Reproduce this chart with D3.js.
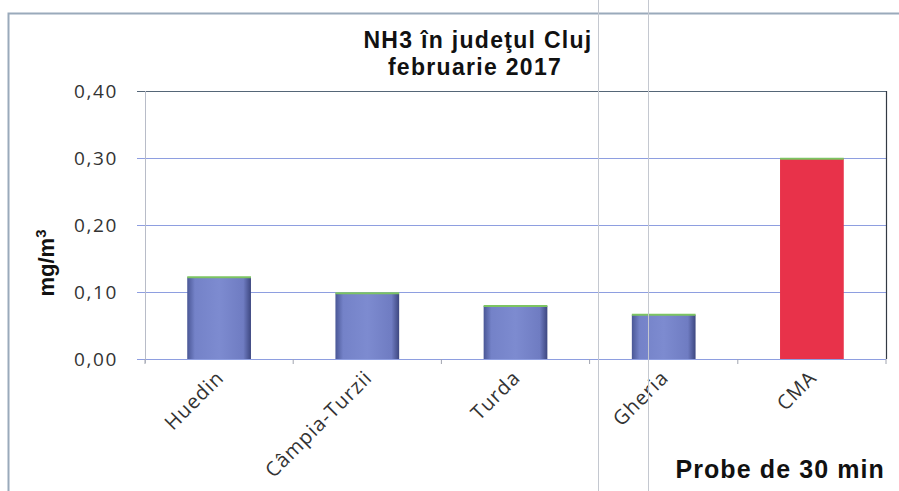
<!DOCTYPE html>
<html>
<head>
<meta charset="utf-8">
<script src="https://cdn.jsdelivr.net/npm/d3@7"></script>
<style>
  body { margin: 0; background: #fff; }
  svg { display: block; }
</style>
</head>
<body>
<script>
const categories = ["Huedin", "Câmpia-Turzii", "Turda", "Gheria", "CMA"];
const values = [0.122, 0.098, 0.079, 0.066, 0.299];
const barColors = ["#6f7cc4", "#6f7cc4", "#6f7cc4", "#6f7cc4", "#e8324a"];
const yTicks = [0, 0.1, 0.2, 0.3, 0.4];
const titleLines = ["NH3 în judeţul Cluj", "februarie 2017"];

const width = 899;
const height = 491;
const margin = { top: 91, right: 13, bottom: 132, left: 145 };

const svg = d3
  .select("body")
  .append("svg")
  .attr("width", width)
  .attr("height", height);

// gradient for the blue bars
const defs = svg.append("defs");
const grad = defs
  .append("linearGradient")
  .attr("id", "blueBar")
  .attr("x1", "0").attr("x2", "1").attr("y1", "0").attr("y2", "0");
grad.append("stop").attr("offset", "0%").attr("stop-color", "#4a5796");
grad.append("stop").attr("offset", "12%").attr("stop-color", "#7482c8");
grad.append("stop").attr("offset", "50%").attr("stop-color", "#7d8bd0");
grad.append("stop").attr("offset", "88%").attr("stop-color", "#6f7cc2");
grad.append("stop").attr("offset", "100%").attr("stop-color", "#3d4780");

// outer chart frame
svg
  .append("path")
  .attr("d", `M8.5,${height} V13.5 H${width}`)
  .attr("fill", "none")
  .attr("stroke", "#9aaabb")
  .attr("stroke-width", 2);

const x = d3
  .scaleBand()
  .domain(categories)
  .range([margin.left, width - margin.right])
  .paddingInner(0.57)
  .paddingOuter(0.285);

const y = d3
  .scaleLinear()
  .domain([0, 0.4])
  .range([height - margin.bottom, margin.top]);

// gridlines
svg
  .append("g")
  .selectAll("line")
  .data(yTicks)
  .enter()
  .append("line")
  .attr("x1", margin.left - 8)
  .attr("x2", width - margin.right)
  .attr("y1", (d) => Math.round(y(d)) + 0.5)
  .attr("y2", (d) => Math.round(y(d)) + 0.5)
  .attr("stroke", (d) => (d === 0.4 ? "#556677" : "#8e9ee0"))
  .attr("stroke-width", 1.2);

// plot area left and right edges
svg
  .append("line")
  .attr("x1", margin.left + 0.5)
  .attr("x2", margin.left + 0.5)
  .attr("y1", y(0.4))
  .attr("y2", y(0) + 4)
  .attr("stroke", "#b8bcc8");
svg
  .append("line")
  .attr("x1", width - margin.right + 0.5)
  .attr("x2", width - margin.right + 0.5)
  .attr("y1", y(0.4))
  .attr("y2", y(0))
  .attr("stroke", "#333a44")
  .attr("stroke-width", 1.2);

// y axis labels
const yAxis = d3
  .axisLeft(y)
  .tickValues(yTicks)
  .tickSize(0)
  .tickPadding(27)
  .tickFormat((d) => d3.format(".2f")(d).replace(".", ","));
const yg = svg
  .append("g")
  .attr("transform", `translate(${margin.left}, 0)`)
  .call(yAxis);
yg.select(".domain").remove();
yg.selectAll("text")
  .attr("font-family", "'Open Sans', Lato, sans-serif")
  .attr("font-size", 19)
  .attr("letter-spacing", 1.6)
  .attr("fill", "#333");

// x axis with category boundary ticks
const xg = svg
  .append("g")
  .attr("transform", `translate(0, ${y(0)})`);
xg.selectAll("line")
  .data(d3.range(categories.length + 1))
  .enter()
  .append("line")
  .attr("x1", (i) => margin.left + i * x.step())
  .attr("x2", (i) => margin.left + i * x.step())
  .attr("y1", 0)
  .attr("y2", 5)
  .attr("stroke", "#a0a4b0");

const xAxis = d3.axisBottom(x).tickSize(0).tickPadding(0);
const xa = svg
  .append("g")
  .attr("transform", `translate(0, ${y(0)})`)
  .call(xAxis);
xa.select(".domain").remove();
xa.selectAll("text")
  .attr("font-family", "'Open Sans', Lato, sans-serif")
  .attr("font-size", 20)
  .attr("letter-spacing", 1)
  .attr("fill", "#333")
  .attr("text-anchor", "end")
  .attr("dy", 0)
  .attr("transform", "translate(6, 20) rotate(-45)");

// bars
const bars = svg.append("g");
bars
  .selectAll("rect")
  .data(values)
  .enter()
  .append("rect")
  .attr("x", (d, i) => x(categories[i]))
  .attr("y", (d) => y(d))
  .attr("width", x.bandwidth())
  .attr("height", (d) => y(0) - y(d))
  .attr("fill", (d, i) => (i === 4 ? barColors[i] : "url(#blueBar)"));
bars
  .selectAll("line")
  .data(values)
  .enter()
  .append("line")
  .attr("x1", (d, i) => x(categories[i]))
  .attr("x2", (d, i) => x(categories[i]) + x.bandwidth())
  .attr("y1", (d) => y(d))
  .attr("y2", (d) => y(d))
  .attr("stroke", "#7cc462")
  .attr("stroke-width", 2);

// scan fold lines
svg
  .append("g")
  .selectAll("line")
  .data([598, 648])
  .enter()
  .append("line")
  .attr("x1", (d) => d + 0.5)
  .attr("x2", (d) => d + 0.5)
  .attr("y1", 0)
  .attr("y2", height)
  .attr("stroke", "#c4c8d0")
  .attr("stroke-width", 1);

// title
svg
  .append("text")
  .attr("x", 478)
  .attr("y", 48)
  .attr("text-anchor", "middle")
  .attr("font-family", "'Liberation Sans', Arial, sans-serif")
  .attr("font-weight", "bold")
  .attr("font-size", 23)
  .attr("letter-spacing", 1.3)
  .attr("fill", "#111")
  .selectAll("tspan")
  .data(titleLines)
  .enter()
  .append("tspan")
  .attr("x", (d, i) => (i === 0 ? 478 : 475))
  .attr("dy", (d, i) => (i === 0 ? 0 : 27))
  .text((d) => d);

// y axis title
svg
  .append("text")
  .attr("transform", "translate(54, 263) rotate(-90)")
  .attr("text-anchor", "middle")
  .attr("font-family", "'Liberation Sans', Arial, sans-serif")
  .attr("font-weight", "bold")
  .attr("font-size", 22)
  .attr("fill", "#111")
  .html("mg/m<tspan dy='-8' font-size='15'>3</tspan>");

// x axis title
svg
  .append("text")
  .attr("x", width - 14)
  .attr("y", 478)
  .attr("text-anchor", "end")
  .attr("font-family", "'Liberation Sans', Arial, sans-serif")
  .attr("font-weight", "bold")
  .attr("font-size", 25)
  .attr("letter-spacing", 1.1)
  .attr("fill", "#111")
  .text("Probe de 30 min");
</script>
</body>
</html>
